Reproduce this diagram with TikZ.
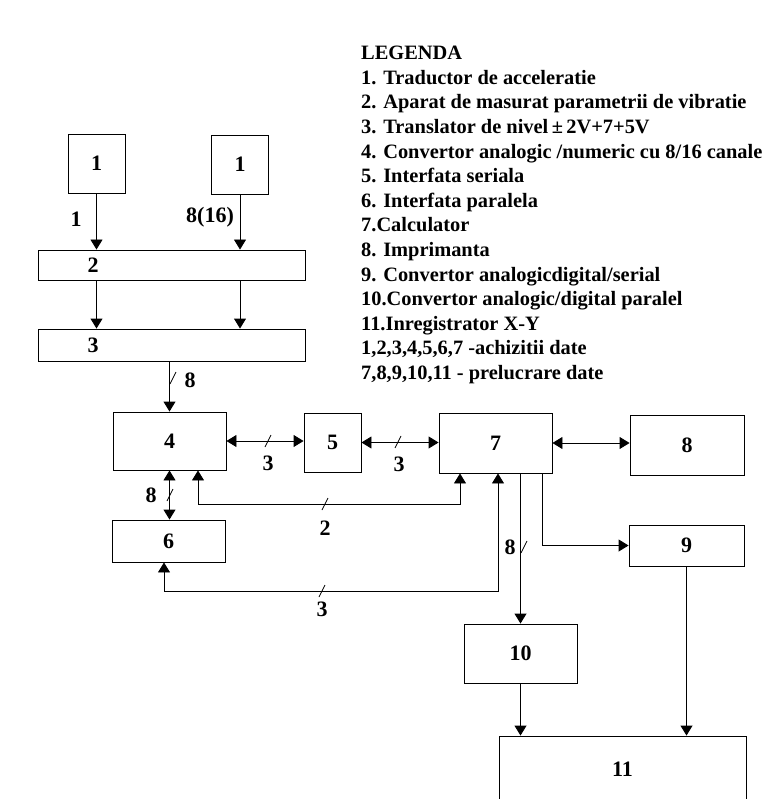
\documentclass[tikz,border=0pt]{standalone}
\usepackage{fontspec}
\setmainfont{Liberation Serif}
\usetikzlibrary{arrows.meta}

\tikzset{
  block/.style={draw, rectangle, line width=0.9pt, inner sep=0pt, font=\bfseries\fontsize{22}{26}\selectfont},
  wire/.style={line width=0.9pt},
  lbl/.style={font=\bfseries\fontsize{22}{26}\selectfont, inner sep=0pt},
  legend/.style={font=\bfseries\fontsize{20.4}{24.6}\selectfont, align=left, inner sep=0pt},
  pics/buslash/.style={code={\draw[line width=0.8pt] (-3pt,-6pt) -- (3pt,6pt);}}
}

\begin{document}
\begin{tikzpicture}[x=1pt, y=-1pt, >={Triangle[length=10pt,width=12pt]}]
    \useasboundingbox (0,0) rectangle (765,799);

    % Draw nodes
    \node[block, minimum width=57pt, minimum height=59pt] (b1a) at (96.5,163.5) {1};
    \node[block, minimum width=57pt, minimum height=59pt] (b1b) at (240,164.5) {1};
    \node[block, minimum width=267pt, minimum height=30pt] (b2) at (171.5,265) {};
    \node[block, minimum width=267pt, minimum height=32pt] (b3) at (171.5,345) {};
    \node[block, minimum width=113pt, minimum height=58pt] (b4) at (169.5,441) {4};
    \node[block, minimum width=57pt, minimum height=59pt] (b5) at (332.5,442.5) {5};
    \node[block, minimum width=113pt, minimum height=60pt] (b7) at (495.5,443) {7};
    \node[block, minimum width=114pt, minimum height=60pt] (b8) at (687,445) {8};
    \node[block, minimum width=113pt, minimum height=42pt] (b6) at (168.5,541) {6};
    \node[block, minimum width=115pt, minimum height=41pt] (b9) at (686.5,545.5) {9};
    \node[block, minimum width=113pt, minimum height=59pt] (b10) at (520.5,653.5) {10};
    \node[block, minimum width=247pt, minimum height=66pt] (b11) at (622.5,769) {11};

    % Draw connections
    \draw[wire, ->] (b1a.south) -- (b1a.south |- b2.north);
    \draw[wire, ->] (b1b.south) -- (b1b.south |- b2.north);
    \draw[wire, ->] (b1a.south |- b2.south) -- (b1a.south |- b3.north);
    \draw[wire, ->] (b1b.south |- b2.south) -- (b1b.south |- b3.north);
    \draw[wire, ->] (b3.south -| b4.north) -- (b4.north);
    \draw[wire, <->] (b4.east) -- (b4.east -| b5.west);
    \draw[wire, <->] (b5.east) -- (b5.east -| b7.west);
    \draw[wire, <->] (b7.east) -- (b7.east -| b8.west);
    \draw[wire, <->] (b4.south) -- (b4.south |- b6.north);
    \coordinate (k2l) at (198,504);
    \coordinate (k2r) at (460,504);
    \draw[wire, <->] (b4.south -| k2l) -- (k2l) -- (k2r) -- (b7.south -| k2r);
    \coordinate (k3l) at (164,591);
    \coordinate (k3r) at (498,591);
    \draw[wire, <->] (b6.south -| k3l) -- (k3l) -- (k3r) -- (b7.south -| k3r);
    \draw[wire, ->] (b7.south -| b10.north) -- (b10.north);
    \coordinate (k9) at (542,545.5);
    \draw[wire, ->] (b7.south -| k9) -- (k9) -- (b9.west);
    \draw[wire, ->] (b10.south) -- (b10.south |- b11.north);
    \draw[wire, ->] (b9.south) -- (b9.south |- b11.north);

    % Bus marks
    \pic at (173,378) {buslash};
    \pic at (268,441) {buslash};
    \pic at (398,442) {buslash};
    \pic at (170,495) {buslash};
    \pic at (325,504) {buslash};
    \pic at (322,591) {buslash};
    \pic at (524,547) {buslash};

    % Labels
    \node[lbl] (t2) at (93,265) {2};
    \node[lbl] (t3) at (93,345) {3};
    \node[lbl] (n1) at (76,219) {1};
    \node[lbl] (n816) at (210,217) {8(16)};
    \node[lbl] (n8a) at (190,380) {8};
    \node[lbl] (n3a) at (268,463) {3};
    \node[lbl] (n3b) at (399,464) {3};
    \node[lbl] (n8b) at (151,495) {8};
    \node[lbl] (n2) at (325,528) {2};
    \node[lbl] (n3c) at (322,609) {3};
    \node[lbl] (n8c) at (510,547) {8};

    % Legend
    \node[legend, anchor=north west] (leg) at (361,46) {LEGENDA\\
      1. Traductor de acceleratie\\
      2. Aparat de masurat parametrii de vibratie\\
      3. Translator de nivel\,±\,2V+7+5V\\
      4. Convertor analogic /numeric cu 8/16 canale\\
      5. Interfata seriala\\
      6. Interfata paralela\\
      7.Calculator\\
      8. Imprimanta\\
      9. Convertor analogicdigital/serial\\
      10.Convertor analogic/digital paralel\\
      11.Inregistrator X-Y\\
      1,2,3,4,5,6,7 -achizitii date\\
      7,8,9,10,11 - prelucrare date};
\end{tikzpicture}
\end{document}
